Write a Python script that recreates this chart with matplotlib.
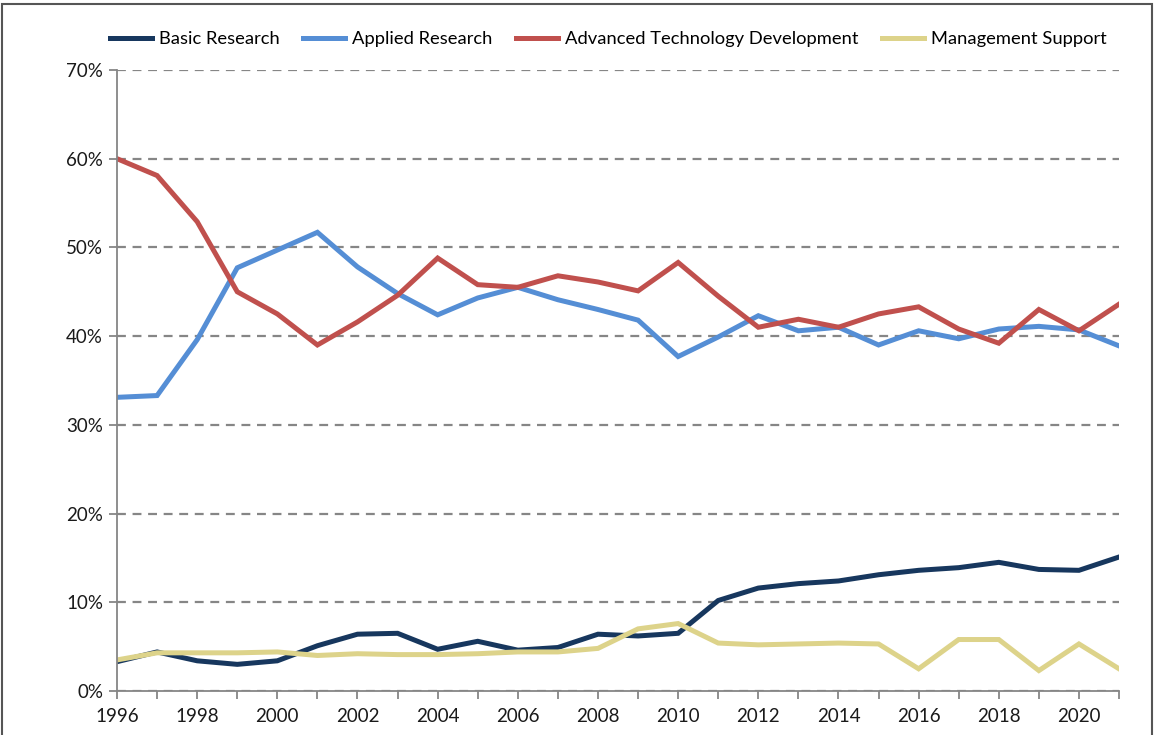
import matplotlib.pyplot as plt
from matplotlib.ticker import MultipleLocator, FuncFormatter
from matplotlib.patches import Rectangle

years = list(range(1996, 2022))

basic = [3.3, 4.4, 3.4, 3.0, 3.4, 5.1, 6.4, 6.5, 4.7, 5.6, 4.6, 4.9, 6.4,
         6.2, 6.5, 10.2, 11.6, 12.1, 12.4, 13.1, 13.6, 13.9, 14.5, 13.7, 13.6, 15.1]
applied = [33.1, 33.3, 39.6, 47.7, 49.7, 51.7, 47.8, 44.8, 42.4, 44.3, 45.5, 44.1, 43.0,
           41.8, 37.7, 39.9, 42.3, 40.6, 41.0, 39.0, 40.6, 39.7, 40.8, 41.1, 40.7, 38.9]
advanced = [60.0, 58.1, 52.9, 45.0, 42.5, 39.0, 41.6, 44.6, 48.8, 45.8, 45.5, 46.8, 46.1,
            45.1, 48.3, 44.5, 41.0, 41.9, 41.0, 42.5, 43.3, 40.8, 39.2, 43.0, 40.6, 43.6]
management = [3.5, 4.3, 4.3, 4.3, 4.4, 4.0, 4.2, 4.1, 4.1, 4.2, 4.4, 4.4, 4.8,
              7.0, 7.6, 5.4, 5.2, 5.3, 5.4, 5.3, 2.5, 5.8, 5.8, 2.3, 5.3, 2.5]

series_names = ["Basic Research", "Applied Research",
                "Advanced Technology Development", "Management Support"]
colors = ["#17375E", "#558ED5", "#C0504D", "#DDD38A"]

plt.rcParams['font.family'] = ['Lato', 'DejaVu Sans']

fig = plt.figure(figsize=(11.54, 7.35), dpi=100)
ax = fig.add_axes([0.1014, 0.0599, 0.8683, 0.8449])

for data, name, c in zip([basic, applied, advanced, management], series_names, colors):
    ax.plot(years, data, color=c, lw=3.6, label=name, solid_joinstyle='miter')

ax.set_xlim(1996, 2021)
ax.set_ylim(0, 70)
ax.yaxis.set_major_locator(MultipleLocator(10))
ax.yaxis.set_major_formatter(FuncFormatter(lambda v, p: f"{v:.0f}%"))
ax.xaxis.set_major_locator(MultipleLocator(2))
ax.xaxis.set_minor_locator(MultipleLocator(1))
ax.grid(axis='y', color='#868686', ls=(0, (4, 3)), lw=1.6)
ax.set_axisbelow(True)

for s in ['top', 'right']:
    ax.spines[s].set_visible(False)
for s in ['left', 'bottom']:
    ax.spines[s].set_color('#868686')
    ax.spines[s].set_linewidth(1.3)

ax.tick_params(axis='both', which='both', color='#868686', width=1.3, labelsize=13.5,
               labelcolor='#1a1a1a')
ax.tick_params(axis='both', which='major', length=6, pad=4)
ax.tick_params(axis='x', which='major', pad=6)
ax.tick_params(axis='x', which='minor', length=6)

leg = fig.legend(loc='upper center', bbox_to_anchor=(0.527, 0.98), ncol=4, frameon=False,
                 fontsize=13.2, handlelength=2.3, columnspacing=1.3, handletextpad=0.35)

fig.patches.append(Rectangle((0.002, -0.01), 0.996, 1.005, transform=fig.transFigure,
                             fill=False, edgecolor='#555555', lw=1.5))

fig.savefig("out.png", dpi=100)
